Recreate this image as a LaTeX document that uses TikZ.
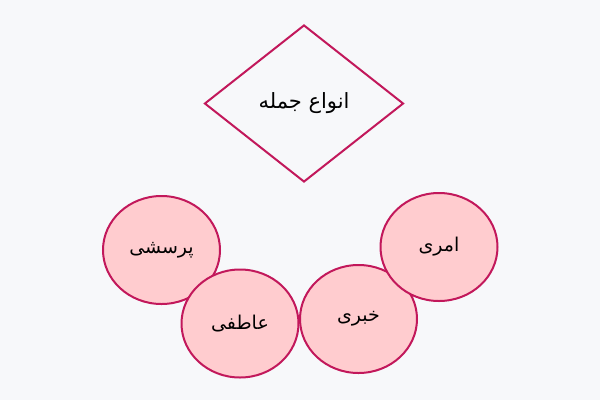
\documentclass[tikz,border=0pt]{standalone}
\usepackage{fontspec}
\newfontfamily\arabicfont[Script=Arabic]{DejaVu Sans}
\TeXXeTstate=1
\usetikzlibrary{shapes.geometric}
\definecolor{bgcol}{HTML}{F7F8FA}
\definecolor{edgecol}{HTML}{C2185B}
\definecolor{fillcol}{HTML}{FFCCCF}

\begin{document}
\begin{tikzpicture}[x=1pt,y=-1pt,
    mainbox/.style={diamond,draw=edgecol,line width=2pt,inner sep=0pt,
        minimum width=199pt,minimum height=157pt,font=\arabicfont\fontsize{21}{24}\selectfont},
    kindbox/.style={ellipse,draw=edgecol,line width=2pt,fill=fillcol,inner sep=0pt,
        minimum width=117pt,minimum height=108pt,font=\arabicfont\fontsize{19}{22}\selectfont}]
\fill[bgcol] (0,0) rectangle (600,400);
\useasboundingbox (0,0) rectangle (600,400);
\node[mainbox] (jomle) at (304,103.5) {\beginR انواع جمله\endR};
\node[kindbox] (porseshi) at (161.5,250) {\beginR پرسشی\endR};
\node[kindbox] (atefi) at (240,323.5) {\beginR عاطفی\endR};
\node[kindbox] (khabari) at (358.5,319) {\beginR خبری\endR};
\node[kindbox] (amri) at (439,247) {\beginR امری\endR};
\end{tikzpicture}
\end{document}
